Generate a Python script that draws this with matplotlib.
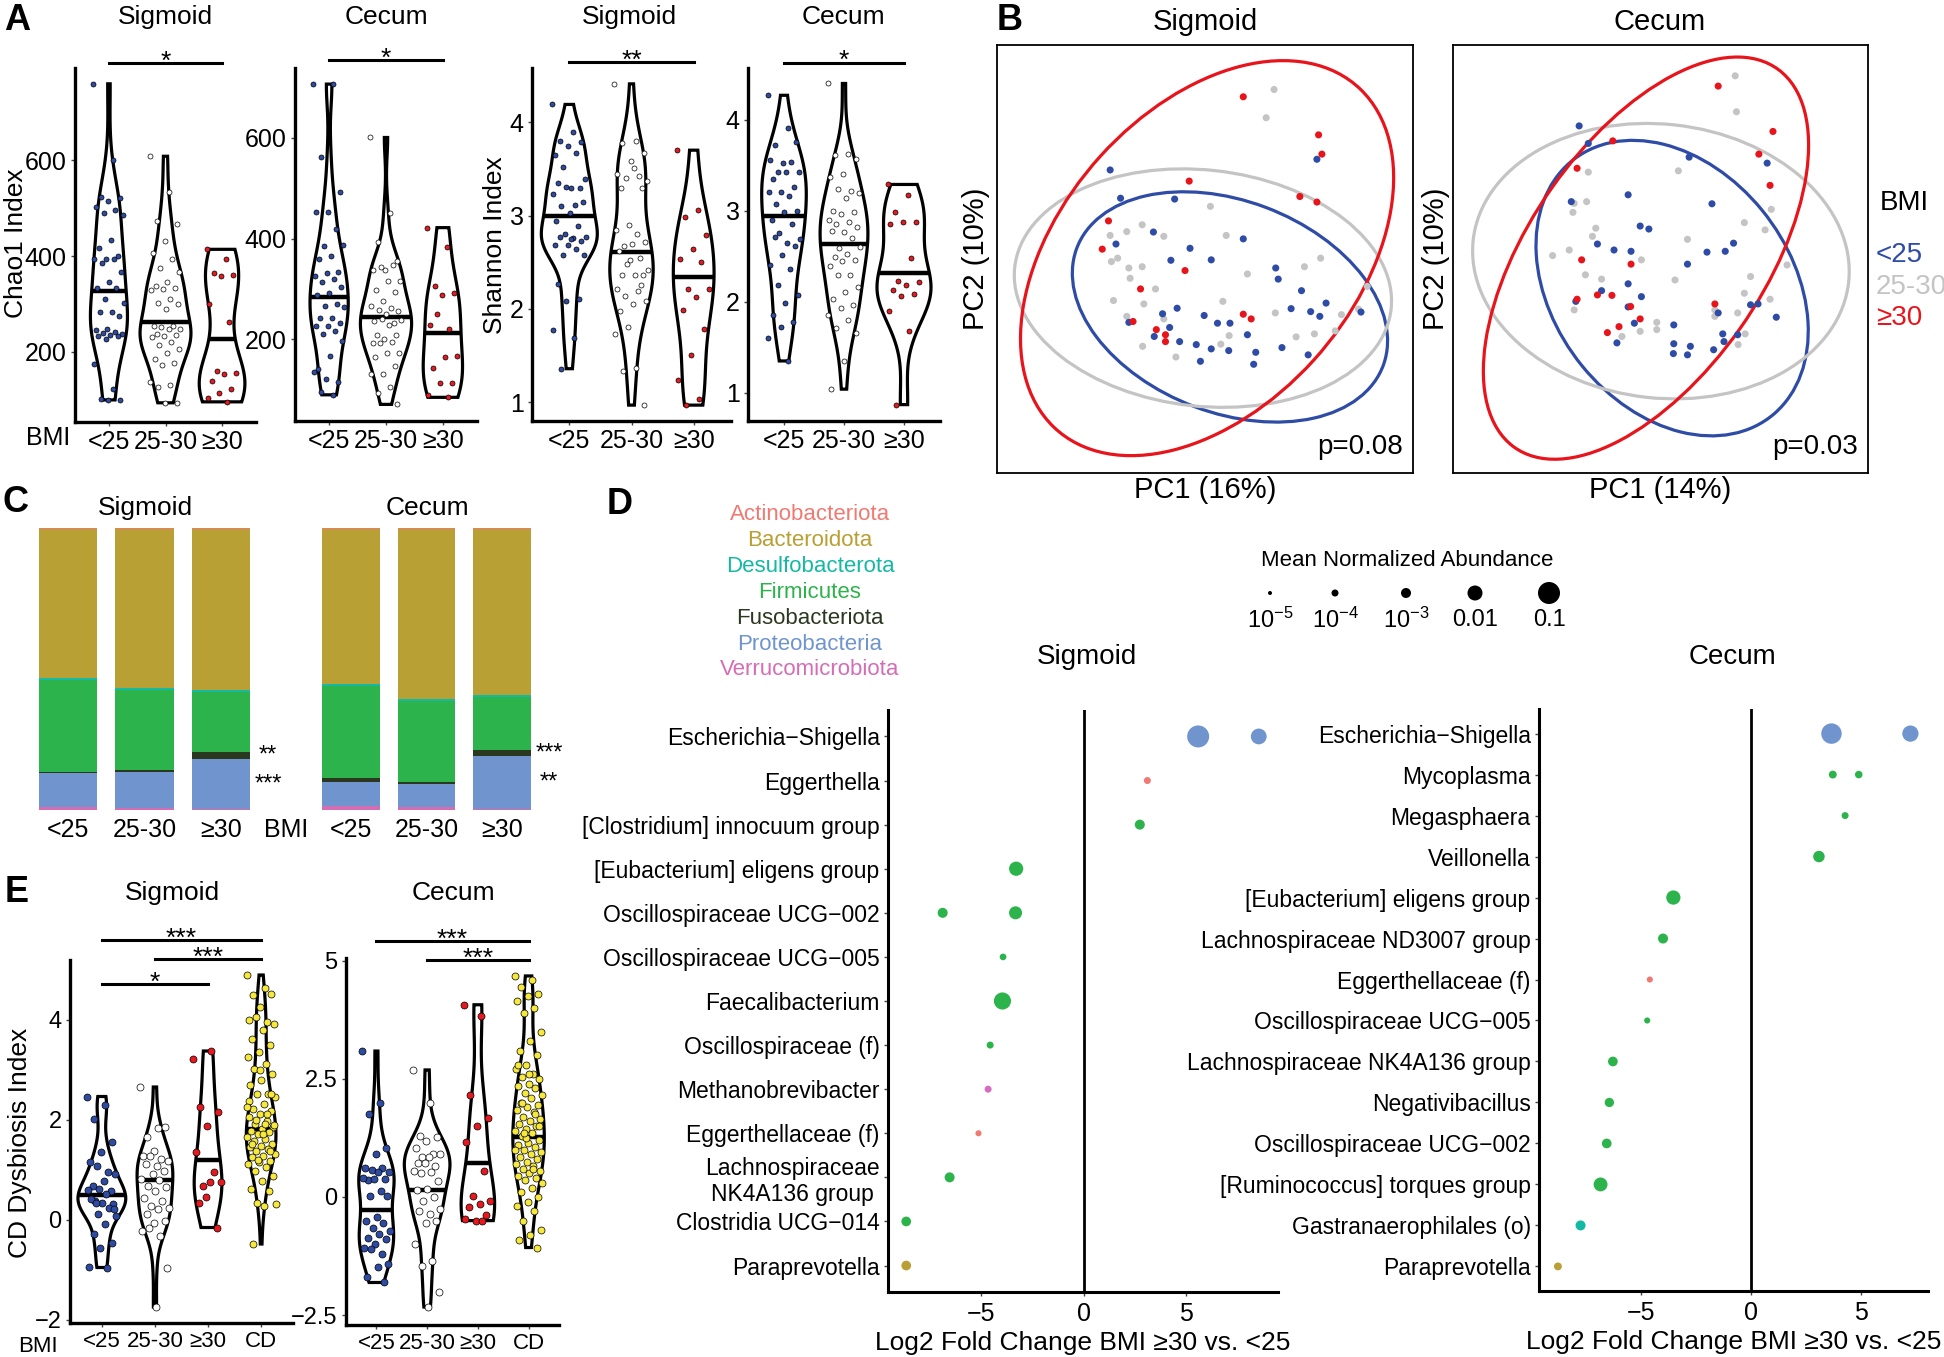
import numpy as np
import matplotlib
matplotlib.use("Agg")
import matplotlib.pyplot as plt
from matplotlib.patches import Ellipse

plt.rcParams["font.family"] = ["Liberation Sans", "DejaVu Sans"]
plt.rcParams["mathtext.fontset"] = "custom"
plt.rcParams["mathtext.rm"] = "Liberation Sans"

W, H = 1944, 1357

BMI_LABELS = ["<25", "25-30", "≥30"]
E_LABELS = ["<25", "25-30", "≥30", "CD"]
GROUP_COLORS = ["#2E4BA3", "#FFFFFF", "#E5191F"]
CD_COLOR = "#F6E83C"

# ---- Panel A: Chao1 / Shannon per BMI group ----
chao1_sig_lt25 = [759, 600, 523, 521, 514, 503, 495, 490, 485, 434, 416, 400, 394, 393, 393, 385, 366, 345,
                  333, 333, 310, 303, 283, 283, 276, 248, 245, 241, 239, 237, 236, 234, 234, 228, 174, 122,
                  102, 100, 100]
chao1_sig_25_30 = [608, 533, 474, 467, 431, 406, 394, 376, 366, 346, 338, 333, 331, 329, 310, 303, 300, 290,
                   255, 255, 252, 248, 248, 238, 236, 234, 232, 221, 214, 207, 198, 186, 176, 172, 138, 131,
                   128, 94, 94]
chao1_sig_ge30 = [414, 393, 364, 360, 358, 301, 263, 161, 157, 155, 139, 123, 115, 103, 96]
chao1_sig_means = [328, 263, 226]

chao1_cec_lt25 = [707, 707, 563, 492, 453, 453, 419, 385, 387, 365, 360, 334, 332, 325, 320, 314, 304, 292,
                  288, 271, 267, 265, 243, 243, 233, 226, 226, 217, 211, 197, 167, 142, 116, 122, 135, 90, 96]
chao1_cec_25_30 = [601, 452, 393, 356, 337, 337, 347, 344, 317, 317, 299, 294, 276, 266, 263, 259, 256, 251,
                   236, 233, 240, 238, 228, 209, 208, 201, 193, 195, 193, 174, 174, 165, 147, 132, 131, 106,
                   93, 71]
chao1_cec_ge30 = [422, 383, 306, 292, 288, 228, 221, 250, 168, 165, 144, 114, 113, 89, 85]
chao1_cec_means = [285, 245, 213]

shannon_sig_lt25 = [4.19, 3.90, 3.80, 3.79, 3.75, 3.65, 3.67, 3.52, 3.39, 3.30, 3.35, 3.29, 3.31, 3.23, 3.11,
                    3.10, 3.14, 3.03, 2.94, 2.89, 2.80, 2.77, 2.76, 2.77, 2.73, 2.68, 2.68, 2.64, 2.58, 2.58,
                    2.75, 2.27, 2.11, 2.08, 1.77, 1.69, 1.36]
shannon_sig_25_30 = [4.41, 3.80, 3.78, 3.67, 3.58, 3.45, 3.42, 3.40, 3.37, 3.51, 3.30, 3.29, 2.90, 2.85, 2.80,
                     2.67, 2.72, 2.70, 2.62, 2.55, 2.48, 2.42, 2.36, 2.36, 2.36, 2.52, 2.21, 2.19, 2.14, 2.09,
                     2.05, 1.98, 2.26, 1.81, 1.73, 1.37, 1.34, 0.97]
shannon_sig_ge30 = [3.70, 3.06, 2.98, 2.79, 2.64, 2.54, 2.50, 2.21, 2.21, 2.13, 1.99, 1.79, 1.51, 1.24, 1.04,
                    0.97]
shannon_sig_means = [3.00, 2.61, 2.34]

shannon_cec_lt25 = [4.27, 3.91, 3.72, 3.76, 3.53, 3.56, 3.54, 3.43, 3.43, 3.43, 3.35, 3.26, 3.21, 3.21, 3.16,
                    3.07, 3.00, 2.99, 2.90, 2.86, 2.76, 2.69, 2.65, 2.71, 2.61, 2.51, 2.40, 2.36, 2.19, 2.08,
                    1.99, 1.86, 1.78, 1.72, 1.60, 1.35]
shannon_cec_25_30 = [4.40, 3.63, 3.61, 3.57, 3.40, 3.37, 3.22, 3.24, 3.20, 3.14, 3.00, 2.99, 2.96, 2.90, 2.88,
                     2.85, 2.82, 2.77, 2.78, 2.70, 2.59, 2.60, 2.53, 2.49, 2.46, 2.45, 2.39, 2.30, 2.29, 2.16,
                     2.11, 2.03, 1.97, 1.93, 1.86, 1.80, 1.71, 1.66, 1.35, 1.04]
shannon_cec_ge30 = [3.29, 3.17, 2.99, 2.88, 2.88, 2.85, 2.48, 2.23, 2.22, 2.19, 2.13, 2.09, 2.06, 1.90, 1.68,
                    0.87]
shannon_cec_means = [2.94, 2.64, 2.32]

# ---- Panel E: CD dysbiosis index ----
dys_sig_lt25 = [2.47, 2.31, 2.03, 1.57, 1.36, 1.16, 0.96, 1.09, 0.92, 0.79, 0.69, 0.59, 0.62, 0.60, 0.52, 0.39,
                0.32, 0.35, 0.42, 0.25, 0.12, 0.09, -0.07, -0.28, -0.45, -0.55, -0.94, -0.95, 0.35, 0.22]
dys_sig_25_30 = [2.66, 1.84, 1.66, 1.86, 1.39, 1.29, 1.22, 1.29, 1.19, 1.09, 1.12, 0.99, 0.92, 0.82, 0.80, 0.69,
                 0.66, 0.59, 0.45, 0.39, 0.29, 0.25, 0.22, 0.12, -0.01, -0.05, -0.21, -0.31, -0.15, -0.95,
                 -1.74]
dys_sig_ge30 = [3.23, 3.38, 2.26, 2.16, 1.88, 1.36, 0.96, 0.69, 0.76, 0.77, 0.35, -0.15, 0.47]
dys_sig_cd = [4.90, 4.65, 4.50, 4.53, 4.27, 4.00, 3.97, 4.07, 3.93, 3.80, 3.63, 3.50, 3.36, 3.26, 3.13, 3.03,
              2.93, 2.80, 2.70, 2.53, 2.53, 2.46, 2.33, 2.23, 2.19, 2.13, 2.06, 1.99, 1.93, 1.86, 1.83, 1.79,
              1.76, 1.73, 1.66, 1.63, 1.59, 1.53, 1.49, 1.46, 1.42, 1.39, 1.32, 1.29, 1.26, 1.19, 1.16, 1.12,
              1.06, 0.99, 0.89, 0.79, 0.62, 0.59, 0.35, 0.32, 0.29, -0.48, 2.53, 3.00, 2.39, 2.13, 2.00, 1.90,
              1.73, 1.53, 1.39, 1.20, 2.26, 1.93]
dys_sig_means = [0.50, 0.80, 1.21, 1.83]

dys_cec_lt25 = [3.09, 2.00, 1.75, 1.03, 0.91, 0.62, 0.61, 0.57, 0.52, 0.53, 0.36, 0.38, 0.38, 0.41, 0.13, 0.02,
                0.02, -0.42, -0.50, -0.54, -0.65, -0.72, -0.79, -0.86, -0.89, -1.00, -1.08, -1.21, -1.10,
                -1.42, -1.49, -1.70, -1.81]
dys_cec_25_30 = [2.69, 1.98, 1.30, 1.26, 1.19, 1.03, 0.91, 0.84, 0.92, 0.84, 0.73, 0.66, 0.73, 0.55, 0.52, 0.50,
                 0.34, 0.17, 0.14, -0.01, -0.08, -0.26, -0.36, -0.29, -0.50, -0.54, -1.00, -1.35, -1.46,
                 -2.02, -2.33]
dys_cec_ge30 = [4.07, 3.84, 2.16, 1.67, 1.51, 1.17, 0.55, 0.02, -0.08, -0.14, -0.22, -0.38, -0.50, -0.47, -0.50]
dys_cec_cd = [4.68, 4.60, 4.45, 4.30, 4.25, 4.15, 4.00, 3.90, 3.50, 3.30, 3.10, 3.00, 2.80, 2.70, 2.60, 2.55,
              2.50, 2.40, 2.35, 2.30, 2.20, 2.15, 2.10, 2.00, 1.95, 1.90, 1.85, 1.80, 1.70, 1.65, 1.60, 1.55,
              1.50, 1.45, 1.40, 1.35, 1.30, 1.20, 1.15, 1.10, 1.05, 1.00, 0.95, 0.90, 0.85, 0.80, 0.75, 0.70,
              0.65, 0.60, 0.55, 0.50, 0.45, 0.40, 0.35, 0.30, 0.20, 0.10, 0.00, -0.10, -0.20, -0.30, -0.50,
              -0.70, -0.80, -0.90, -1.07, 1.25, 1.00, 0.60, 2.00, 1.50, 2.60, 2.80, 1.75, 1.35]
dys_cec_means = [-0.27, 0.14, 0.73, 1.26]

# ---- Panel B: PCoA scores (arbitrary PC units) ----
sig_pc_lt25 = [(-22.8, 20.8), (26.9, 23.3), (-20.3, 14.2), (-7.3, 14.0), (-21.4, 3.5), (-12.4, 6.3), (-3.6, 2.5),
               (9.2, 4.7), (1.5, -0.2), (-8.2, -0.3), (17.0, -2.1), (17.6, -4.7), (23.2, -7.4), (29.1, -10.3),
               (25.4, -12.3), (27.6, -13.4), (37.5, -12.4), (20.7, -11.6), (-6.7, -11.5), (-10.2, -12.8),
               (-0.2, -13.2), (-18.3, -14.8), (-8.5, -16.0), (6.0, -15.0), (10.2, -17.7), (-6.1, -19.3),
               (-12.2, -18.1), (-2.1, -20.0), (1.5, -21.0), (5.7, -21.4), (12.2, -21.8), (18.5, -20.7),
               (24.8, -22.4), (-1.1, -23.9), (11.7, -24.6), (3.0, -15.0)]
sig_pc_25_30 = [(16.6, 39.6), (14.7, 33.0), (1.3, 12.3), (-22.8, 5.5), (-18.8, 6.4), (-15.1, 8.0), (-9.9, 5.3),
                (5.1, 5.5), (-22.5, -0.6), (-21.0, 0.2), (-18.3, -2.1), (-15.1, -1.8), (-18.0, -4.5),
                (-11.9, -7.0), (-22.0, -9.7), (-14.7, -10.5), (4.3, -9.9), (10.2, -3.5), (23.9, -1.8),
                (27.8, 0.2), (39.0, -6.4), (16.9, -12.6), (32.8, -13.0), (36.9, -11.7), (21.9, -18.2),
                (26.3, -17.5), (31.3, -16.8), (-18.8, -13.4), (-9.9, -14.0), (-15.0, -20.4), (-7.0, -22.9),
                (3.8, -19.9), (5.8, -17.9)]
sig_pc_ge30 = [(9.2, 37.9), (27.3, 29.0), (28.1, 24.5), (-3.8, 18.2), (22.8, 14.6), (26.9, 13.3), (-23.2, 8.9),
               (-24.7, 2.3), (-4.8, -2.7), (-15.5, -7.0), (9.2, -12.9), (11.1, -14.0), (-17.3, -14.6),
               (-11.7, -16.5), (-9.5, -17.7), (-9.5, -19.3)]
cec_pc_lt25 = [(-19.6, 31.1), (-17.4, 27.0), (6.9, 23.8), (25.7, 22.4), (-21.5, 13.4), (-7.8, 15.0), (12.4, 12.9),
               (-4.9, 7.7), (-2.8, 7.0), (-15.2, 3.5), (-11.2, 2.1), (-7.1, 1.8), (6.5, -1.2), (11.2, 1.6),
               (15.6, 1.8), (17.6, 3.7), (-7.8, -5.8), (-4.6, -8.8), (-14.2, -7.4), (-20.4, -9.9),
               (-7.8, -11.2), (-6.3, -15.0), (3.2, -15.4), (27.9, -13.6), (21.7, -10.7), (23.5, -10.5),
               (13.9, -12.6), (-10.5, -19.6), (3.2, -19.8), (7.2, -20.4), (3.1, -22.1), (6.5, -22.4),
               (12.8, -21.2), (15.0, -17.5), (15.3, -19.3), (18.6, -17.7)]
cec_pc_25_30 = [(18.0, 42.8), (18.3, 34.4), (4.3, 20.6), (-17.4, 20.3), (-20.8, 13.0), (-17.8, 13.4),
                (-21.1, 10.9), (20.2, 8.5), (26.7, 11.6), (25.2, 6.8), (-15.6, 7.2), (-16.4, 5.3), (6.5, 4.6),
                (-26.0, 0.8), (-22.0, 2.1), (-4.6, -0.2), (30.5, -1.4), (-18.1, -3.7), (-14.2, -4.7),
                (3.5, -4.9), (21.7, -4.1), (20.2, -8.0), (26.4, -9.4), (-20.8, -11.9), (13.1, -11.9),
                (18.6, -12.6), (-0.9, -14.8), (-4.9, -16.9), (-0.9, -16.5), (20.4, -17.5), (18.7, -20.0),
                (-9.3, -18.1), (13.1, -13.4)]
cec_pc_ge30 = [(13.9, 40.4), (27.1, 29.8), (23.7, 24.5), (26.4, 17.2), (-11.5, 27.6), (-20.1, 21.2),
               (-19.0, -0.2), (-7.1, -1.2), (-15.2, -8.4), (-11.7, -8.5), (-7.2, -11.1), (-4.9, -14.0),
               (-20.1, -9.4), (13.1, -10.5), (-10.0, -15.8), (-12.8, -17.2)]
# 95% ellipses: centre x, centre y, semi-axis a, semi-axis b, angle (deg); order <25, 25-30, >=30
sig_ellipses = [(6.0, -11.2, 39.3, 24.8, -20), (-0.5, -6.8, 45.5, 27.6, -6), (0.5, 0.2, 54.0, 35.0, 47)]
cec_ellipses = [(2.8, -6.8, 38.3, 28.3, -50), (0.1, -0.5, 45.5, 32.0, -6), (-3.5, 0.2, 54.4, 28.0, 54)]
B_COLORS = ["#2E4BA6", "#C4C4C4", "#E8141C"]

# ---- Panel C: mean relative abundance of phyla (bottom -> top) ----
phyla_stack = ["Verrucomicrobiota", "Proteobacteria", "Fusobacteriota", "Firmicutes", "Desulfobacterota",
               "Bacteroidota", "Actinobacteriota"]
stack_sig_lt25 = [0.010, 0.120, 0.006, 0.325, 0.007, 0.529, 0.004]
stack_sig_25_30 = [0.007, 0.126, 0.008, 0.283, 0.007, 0.565, 0.004]
stack_sig_ge30 = [0.003, 0.178, 0.025, 0.212, 0.007, 0.571, 0.004]
stack_cec_lt25 = [0.015, 0.086, 0.011, 0.327, 0.007, 0.550, 0.004]
stack_cec_25_30 = [0.009, 0.084, 0.006, 0.288, 0.007, 0.602, 0.004]
stack_cec_ge30 = [0.003, 0.187, 0.022, 0.188, 0.007, 0.590, 0.003]

PHYLUM_COLORS = {
    "Actinobacteriota": "#F07A72",
    "Bacteroidota": "#B8A034",
    "Desulfobacterota": "#14B9A4",
    "Firmicutes": "#2DB34B",
    "Fusobacteriota": "#2A3820",
    "Proteobacteria": "#7094CE",
    "Verrucomicrobiota": "#D56DB5",
    "Euryarchaeota": "#D66CC2",
}
legend_phyla = ["Actinobacteriota", "Bacteroidota", "Desulfobacterota", "Firmicutes", "Fusobacteriota",
                "Proteobacteria", "Verrucomicrobiota"]

# ---- Panel D: differential abundance ----
sig_taxa = ["Escherichia−Shigella", "Eggerthella", "[Clostridium] innocuum group", "[Eubacterium] eligens group",
            "Oscillospiraceae UCG−002", "Oscillospiraceae UCG−005", "Faecalibacterium", "Oscillospiraceae (f)",
            "Methanobrevibacter", "Eggerthellaceae (f)", "Lachnospiraceae\nNK4A136 group", "Clostridia UCG−014",
            "Paraprevotella"]
sig_pt_taxon = [0, 0, 1, 2, 3, 4, 4, 5, 6, 7, 8, 9, 10, 11, 12]
sig_pt_lfc = [5.6, 8.56, 3.12, 2.75, -3.29, -6.88, -3.32, -3.93, -3.96, -4.56, -4.66, -5.13, -6.54, -8.66, -8.66]
sig_pt_abund = [0.1, 0.013, 1e-4, 1e-3, 0.007, 1e-3, 0.004, 8e-5, 0.02, 1e-4, 1e-4, 5e-5, 1e-3, 8e-4, 8e-4]
sig_pt_phylum = ["Proteobacteria", "Proteobacteria", "Actinobacteriota", "Firmicutes", "Firmicutes",
                 "Firmicutes", "Firmicutes", "Firmicutes", "Firmicutes", "Firmicutes", "Euryarchaeota",
                 "Actinobacteriota", "Firmicutes", "Firmicutes", "Bacteroidota"]

cec_taxa = ["Escherichia−Shigella", "Mycoplasma", "Megasphaera", "Veillonella", "[Eubacterium] eligens group",
            "Lachnospiraceae ND3007 group", "Eggerthellaceae (f)", "Oscillospiraceae UCG−005",
            "Lachnospiraceae NK4A136 group", "Negativibacillus", "Oscillospiraceae UCG−002",
            "[Ruminococcus] torques group", "Gastranaerophilales (o)", "Paraprevotella"]
cec_pt_taxon = [0, 0, 1, 1, 2, 3, 4, 5, 6, 7, 8, 9, 10, 11, 12, 13]
cec_pt_lfc = [3.66, 7.25, 3.72, 4.90, 4.28, 3.09, -3.53, -4.00, -4.60, -4.72, -6.28, -6.44, -6.56, -6.84, -7.75,
              -8.78]
cec_pt_abund = [0.06, 0.015, 2e-4, 1.5e-4, 1e-4, 2e-3, 7e-3, 1e-3, 5e-5, 5e-5, 8e-4, 6e-4, 8e-4, 6e-3, 1e-3,
                2e-4]
cec_pt_phylum = ["Proteobacteria", "Proteobacteria", "Firmicutes", "Firmicutes", "Firmicutes", "Firmicutes",
                 "Firmicutes", "Firmicutes", "Actinobacteriota", "Firmicutes", "Firmicutes", "Firmicutes",
                 "Firmicutes", "Firmicutes", "Desulfobacterota", "Bacteroidota"]

size_legend_abund = [1e-5, 1e-4, 1e-3, 0.01, 0.1]
size_legend_labels = [r"$\mathregular{10^{-5}}$", r"$\mathregular{10^{-4}}$", r"$\mathregular{10^{-3}}$",
                      "0.01", "0.1"]
LEGEND_DIAM_PX = [4, 7, 10, 15, 22]


def dot_area(abund):
    d = np.interp(np.log10(abund), np.log10(size_legend_abund), LEGEND_DIAM_PX)
    return (d * 0.72) ** 2


fig = plt.figure(figsize=(W / 100, H / 100), dpi=100)


def add_ax(left, top, right, bottom):
    return fig.add_axes([left / W, 1 - bottom / H, (right - left) / W, (bottom - top) / H])


def nrd0(x):
    sd = np.std(x, ddof=1)
    q75, q25 = np.percentile(x, [75, 25])
    lo = min(sd, (q75 - q25) / 1.34)
    if lo <= 0:
        lo = sd
    return 0.9 * lo * len(x) ** -0.2


def classic_axes(ax, lw=2.4):
    for side in ["top", "right"]:
        ax.spines[side].set_visible(False)
    for side in ["left", "bottom"]:
        ax.spines[side].set_linewidth(lw)
    ax.tick_params(length=3, width=1, color="#444444", labelcolor="black")


def violin_panel(ax, groups, means, colors, ylim, yticks, labels, pt_diam, ytick_labels=None, xsize=18):
    grids, dens = [], []
    for vals in groups:
        v = np.asarray(vals, float)
        g = np.linspace(v.min(), v.max(), 256)
        bw = nrd0(v)
        d = np.exp(-0.5 * ((g[:, None] - v[None, :]) / bw) ** 2).sum(1) / (len(v) * bw)
        grids.append(g)
        dens.append(d)
    dmax = max(d.max() for d in dens)
    for i, (vals, g, d) in enumerate(zip(groups, grids, dens)):
        pos = i + 1
        half = 0.45 * d / dmax
        ax.fill(np.concatenate([pos - half, (pos + half)[::-1]]), np.concatenate([g, g[::-1]]),
                facecolor="white", edgecolor="black", lw=2.3, zorder=2)
        hw = np.interp(means[i], g, half)
        ax.plot([pos - hw, pos + hw], [means[i], means[i]], color="black", lw=3.2, zorder=3,
                solid_capstyle="butt")
        n = len(vals)
        jit = ((np.arange(n) * 0.618034) % 1.0 - 0.5) * 0.55
        ax.scatter(pos + jit, vals, s=(pt_diam * 0.72) ** 2, facecolor=colors[i], edgecolor="black",
                   linewidth=0.5, zorder=4)
    ax.set_xlim(0.4, len(groups) + 0.6)
    ax.set_ylim(*ylim)
    ax.set_xticks(range(1, len(groups) + 1), labels)
    if ytick_labels is None:
        ax.set_yticks(yticks)
    else:
        ax.set_yticks(yticks, ytick_labels)
    classic_axes(ax)
    ax.tick_params(axis="y", labelsize=18, pad=3)
    ax.tick_params(axis="x", labelsize=xsize, pad=3)


def sig_bar(ax, x1, x2, y, label, fs=19):
    ax.plot([x1, x2], [y, y], color="black", lw=2.2, clip_on=False)
    ax.annotate(label, ((x1 + x2) / 2, y), xytext=(0, -4), textcoords="offset points", ha="center",
                va="baseline", fontsize=fs, annotation_clip=False)


# ----- Panel A -----
ax = add_ax(75, 68, 256, 422)
violin_panel(ax, [chao1_sig_lt25, chao1_sig_25_30, chao1_sig_ge30], chao1_sig_means, GROUP_COLORS,
             (54, 792), [200, 400, 600], BMI_LABELS, 5)
sig_bar(ax, 1, 3, 802, "*")
ax = add_ax(295, 68, 477, 421)
violin_panel(ax, [chao1_cec_lt25, chao1_cec_25_30, chao1_cec_ge30], chao1_cec_means, GROUP_COLORS,
             (38, 739), [200, 400, 600], BMI_LABELS, 5)
sig_bar(ax, 1, 3, 754, "*")
ax = add_ax(532, 68, 731, 421)
violin_panel(ax, [shannon_sig_lt25, shannon_sig_25_30, shannon_sig_ge30], shannon_sig_means, GROUP_COLORS,
             (0.8, 4.58), [1, 2, 3, 4], BMI_LABELS, 5)
sig_bar(ax, 1, 3, 4.64, "**")
ax = add_ax(748, 68, 940, 421)
violin_panel(ax, [shannon_cec_lt25, shannon_cec_25_30, shannon_cec_ge30], shannon_cec_means, GROUP_COLORS,
             (0.69, 4.57), [1, 2, 3, 4], BMI_LABELS, 5)
sig_bar(ax, 1, 3, 4.63, "*")

# ----- Panel E -----
e_colors = GROUP_COLORS + [CD_COLOR]
ax = add_ax(70, 960, 293, 1323)
violin_panel(ax, [dys_sig_lt25, dys_sig_25_30, dys_sig_ge30, dys_sig_cd], dys_sig_means, e_colors,
             (-2.06, 5.2), [-2, 0, 2, 4], E_LABELS, 7, xsize=16)
ax.tick_params(axis="y", labelsize=17)
sig_bar(ax, 1, 4, 5.6, "***")
sig_bar(ax, 2, 4, 5.22, "***")
sig_bar(ax, 1, 3, 4.72, "*")
ax = add_ax(346, 958, 559, 1325)
violin_panel(ax, [dys_cec_lt25, dys_cec_25_30, dys_cec_ge30, dys_cec_cd], dys_cec_means, e_colors,
             (-2.71, 5.06), [-2.5, 0, 2.5, 5], E_LABELS, 7, ["−2.5", "0", "2.5", "5"], xsize=16)
ax.tick_params(axis="y", labelsize=17)
sig_bar(ax, 1, 4, 5.42, "***")
sig_bar(ax, 2, 4, 5.02, "***")

# ----- Panel B -----
for box, pts_list, ells, pval in [
    ((997, 45, 1413, 473), [sig_pc_25_30, sig_pc_lt25, sig_pc_ge30], sig_ellipses, "p=0.08"),
    ((1453, 45, 1868, 473), [cec_pc_25_30, cec_pc_lt25, cec_pc_ge30], cec_ellipses, "p=0.03"),
]:
    ax = add_ax(*box)
    cols = [B_COLORS[1], B_COLORS[0], B_COLORS[2]]
    for pts, c in zip(pts_list, cols):
        arr = np.array(pts)
        ax.scatter(arr[:, 0], arr[:, 1], s=26, color=c, edgecolor="none", zorder=3)
    for (cx, cy, a, b, ang), c in zip(ells, B_COLORS):
        ax.add_patch(Ellipse((cx, cy), 2 * a, 2 * b, angle=ang, fill=False, ec=c, lw=2.3, zorder=2))
    ax.set_xlim(-50, 50)
    ax.set_ylim(-50, 50)
    ax.set_xticks([])
    ax.set_yticks([])
    for s in ax.spines.values():
        s.set_linewidth(1.3)
    ax.text(0.975, 0.03, pval, transform=ax.transAxes, ha="right", va="bottom", fontsize=20)

# ----- Panel C -----
for box, stacks in [((30, 528, 259, 810), [stack_sig_lt25, stack_sig_25_30, stack_sig_ge30]),
                    ((313, 528, 540, 810), [stack_cec_lt25, stack_cec_25_30, stack_cec_ge30])]:
    ax = add_ax(*box)
    fr = np.array(stacks, float)
    fr = fr / fr.sum(axis=1, keepdims=True)
    bottom = np.zeros(3)
    for j, ph in enumerate(phyla_stack):
        ax.bar(range(3), fr[:, j], bottom=bottom, width=0.76, color=PHYLUM_COLORS[ph], linewidth=0)
        bottom += fr[:, j]
    ax.set_xlim(-0.5, 2.5)
    ax.set_ylim(0, 1)
    ax.set_yticks([])
    ax.set_xticks(range(3), BMI_LABELS)
    ax.tick_params(length=0, labelsize=18, pad=6)
    for s in ax.spines.values():
        s.set_visible(False)
    fuso_mid = fr[2, 0] + fr[2, 1] + fr[2, 2] / 2
    prot_mid = fr[2, 0] + fr[2, 1] / 2
    stars = ("**", "***") if box[0] < 100 else ("***", "**")
    ax.text(2.62, fuso_mid, stars[0], ha="center", va="center", fontsize=17, clip_on=False)
    ax.text(2.62, prot_mid, stars[1], ha="center", va="center", fontsize=17, clip_on=False)

# ----- Panel D -----
for box, taxa, pt_taxon, lfc, abund, phy, xlim in [
    ((888, 710, 1278, 1292), sig_taxa, sig_pt_taxon, sig_pt_lfc, sig_pt_abund, sig_pt_phylum, (-9.55, 9.5)),
    ((1539, 709, 1928, 1291), cec_taxa, cec_pt_taxon, cec_pt_lfc, cec_pt_abund, cec_pt_phylum, (-9.64, 8.05)),
]:
    ax = add_ax(*box)
    ax.axvline(0, color="black", lw=2.0, zorder=1)
    ax.scatter(lfc, np.array(pt_taxon) + 1, s=[dot_area(a) for a in abund],
               c=[PHYLUM_COLORS[p] for p in phy], edgecolor="none", zorder=3)
    ax.set_ylim(len(taxa) + 0.6, 0.4)
    ax.set_xlim(*xlim)
    ax.set_yticks(range(1, len(taxa) + 1), taxa)
    for lab in ax.get_yticklabels():
        lab.set_multialignment("center")
    ax.set_xticks([-5, 0, 5], ["−5", "0", "5"])
    classic_axes(ax, lw=2.2)
    ax.tick_params(axis="y", labelsize=16.5, pad=3)
    ax.tick_params(axis="x", labelsize=18, pad=4)
    ax.set_xlabel("Log2 Fold Change BMI ≥30 vs. <25", fontsize=19, labelpad=4)

# ----- free text and legends (pixel overlay) -----
ov = fig.add_axes([0, 0, 1, 1])
ov.set_xlim(0, W)
ov.set_ylim(H, 0)
ov.axis("off")


def t(x, y, s, **kw):
    kw.setdefault("ha", "center")
    kw.setdefault("va", "center")
    ov.text(x, y, s, **kw)


for letter, x, y in [("A", 17, 20), ("B", 1010, 20), ("C", 15, 502), ("D", 620, 505), ("E", 17, 893)]:
    t(x, y, letter, fontsize=26, fontweight="bold")

for x, s in [(165, "Sigmoid"), (386, "Cecum"), (629, "Sigmoid"), (843, "Cecum")]:
    t(x, 17, s, fontsize=19)
t(16, 243, "Chao1 Index", fontsize=19, rotation=90)
t(495, 245, "Shannon Index", fontsize=19, rotation=90)
t(48, 438, "BMI", fontsize=18)

t(1205, 22, "Sigmoid", fontsize=21)
t(1660, 22, "Cecum", fontsize=21)
t(1205, 490, "PC1 (16%)", fontsize=21)
t(1660, 490, "PC1 (14%)", fontsize=21)
t(976, 259, "PC2 (10%)", fontsize=21, rotation=90)
t(1436, 259, "PC2 (10%)", fontsize=21, rotation=90)
t(1880, 203, "BMI", fontsize=20, ha="left")
for y, s, c in zip([255, 287, 318], ["<25", "25-30", "≥30"], B_COLORS):
    t(1876, y, s, fontsize=20, ha="left", color=c)

t(145, 508, "Sigmoid", fontsize=19)
t(427, 508, "Cecum", fontsize=19)
t(286, 830, "BMI", fontsize=18)

for i, ph in enumerate(legend_phyla):
    t(810, 515 + i * 25.8, ph, fontsize=16, color=PHYLUM_COLORS[ph])
t(1407, 560, "Mean Normalized Abundance", fontsize=16)
leg_x = [1270, 1335, 1406, 1475, 1549]
ov.scatter(leg_x, [593] * 5, s=[dot_area(a) for a in size_legend_abund], color="black", edgecolor="none")
for x, s in zip(leg_x, size_legend_labels):
    t(x, 620, s, fontsize=17)
t(1087, 657, "Sigmoid", fontsize=20)
t(1732, 657, "Cecum", fontsize=20)

t(172, 893, "Sigmoid", fontsize=19)
t(453, 893, "Cecum", fontsize=19)
t(20, 1143, "CD Dysbiosis Index", fontsize=19, rotation=90)
t(38, 1346, "BMI", fontsize=16)

fig.savefig("out.png", dpi=100)
